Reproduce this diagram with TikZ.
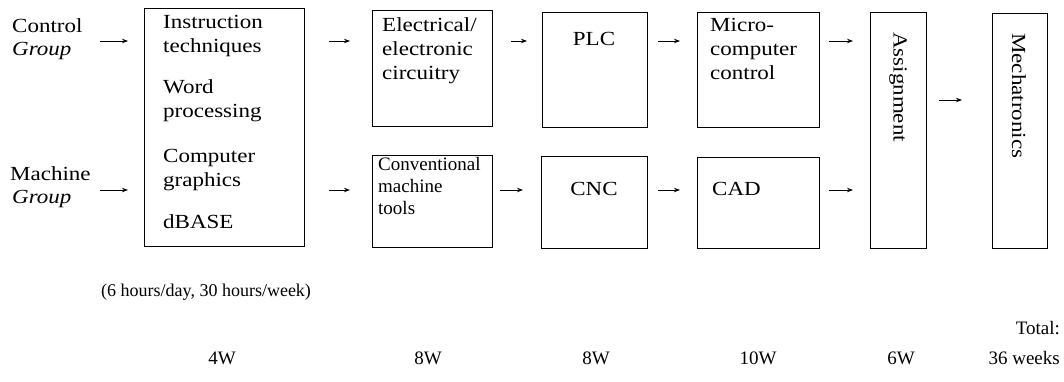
\documentclass[tikz,border=0pt]{standalone}
\usepackage{fontspec}
\setmainfont{Liberation Serif}[FakeStretch=1.15]
\newfontfamily\plainserif{Liberation Serif}
\usetikzlibrary{arrows.meta}
\begin{document}
\begin{tikzpicture}[x=1pt,y=-1pt,
  box/.style={draw, line width=1.1pt, inner sep=0pt, anchor=north west},
  txt/.style={font=\fontsize{20}{24}\selectfont, inner sep=0pt, align=left, anchor=base west},
  ctxt/.style={font=\fontsize{20}{24}\selectfont, inner sep=0pt, anchor=base},
  small/.style={font=\plainserif\fontsize{19}{22}\selectfont, inner sep=0pt, align=left, anchor=base west},
  grp/.style={font=\itshape\fontsize{20}{22}\selectfont, inner sep=0pt, anchor=base west},
  vtxt/.style={font=\fontsize{20}{22}\selectfont, inner sep=0pt, rotate=-90, anchor=west},
  note/.style={font=\plainserif\fontsize{19}{22}\selectfont, inner sep=0pt},
  arr/.style={-{Stealth[length=6pt,width=4.5pt]}, line width=0.9pt}]
\useasboundingbox (0,0) rectangle (1064,381);

% boxes
\node[box, minimum width=160pt, minimum height=238pt] (b1) at (144,8) {};
\node[box, minimum width=120pt, minimum height=116pt] (elec) at (372,10) {};
\node[box, minimum width=120pt, minimum height=92pt] (conv) at (372,155) {};
\node[box, minimum width=105pt, minimum height=115pt] (plc) at (542,12) {};
\node[box, minimum width=106pt, minimum height=92pt] (cnc) at (541,156) {};
\node[box, minimum width=122pt, minimum height=115pt] (micro) at (697,12) {};
\node[box, minimum width=122pt, minimum height=91pt] (cad) at (697,157) {};
\node[box, minimum width=56pt, minimum height=236pt] (assign) at (870,12) {};
\node[box, minimum width=55pt, minimum height=235pt] (mech) at (992,13) {};

% group labels
\node[txt] (ctl) at (12,32) {Control};
\node[grp] (ctlg) at (12,55) {Group};
\node[txt] (mach) at (10,180) {Machine};
\node[grp] (machg) at (12,203) {Group};

% box texts (base anchor = baseline of the last line)
\node[txt] (t1a) at (163,52) {Instruction\\techniques};
\node[txt] (t1b) at (163,117) {Word\\processing};
\node[txt] (t1c) at (163,186) {Computer\\graphics};
\node[txt] (t1d) at (163,228) {dBASE};
\node[txt] (telec) at (382,79) {Electrical/\\electronic\\circuitry};
\node[small] (tconv) at (378,214) {Conventional\\machine\\tools};
\node[ctxt] (tplc) at (594,45) {PLC};
\node[ctxt] (tcnc) at (594,195) {CNC};
\node[txt] (tmicro) at (710,79) {Micro-\\computer\\control};
\node[txt] (tcad) at (712,195) {CAD};
\node[vtxt] (tassign) at (898,32) {Assignment};
\node[vtxt] (tmech) at (1019,33) {Mechatronics};

% footer
\node[note, font=\plainserif\fontsize{18}{22}\selectfont, anchor=base west] (hours) at (101,296) {(6 hours/day, 30 hours/week)};
\node[note, anchor=base east] (total) at (1060,334) {Total:};
\node[note, anchor=base] (w1) at (222,364) {4W};
\node[note, anchor=base] (w2) at (428,364) {8W};
\node[note, anchor=base] (w3) at (596,364) {8W};
\node[note, anchor=base] (w4) at (758,364) {10W};
\node[note, anchor=base] (w5) at (901,364) {6W};
\node[note, anchor=base east] (w6) at (1060,364) {36 weeks};

% arrows
\coordinate (rowA) at (0,41);
\coordinate (rowB) at (0,190);
\coordinate (rowC) at (0,100);
\coordinate (sA) at (100,41);
\coordinate (sB) at (100,190);
\draw[arr, shorten >=16pt] (sA) -- (b1.west |- rowA);
\draw[arr, shorten >=16pt] (sB) -- (b1.west |- rowB);
\draw[arr, shorten <=24pt, shorten >=22pt] (b1.east |- rowA) -- (elec.west |- rowA);
\draw[arr, shorten <=24pt, shorten >=22pt] (b1.east |- rowB) -- (conv.west |- rowB);
\draw[arr, shorten <=18pt, shorten >=15pt] (elec.east |- rowA) -- (plc.west |- rowA);
\draw[arr, shorten <=7pt, shorten >=18pt] (conv.east |- rowB) -- (cnc.west |- rowB);
\draw[arr, shorten <=10pt, shorten >=17pt] (plc.east |- rowA) -- (micro.west |- rowA);
\draw[arr, shorten <=10pt, shorten >=17pt] (cnc.east |- rowB) -- (cad.west |- rowB);
\draw[arr, shorten <=9pt, shorten >=17pt] (micro.east |- rowA) -- (assign.west |- rowA);
\draw[arr, shorten <=9pt, shorten >=17pt] (cad.east |- rowB) -- (assign.west |- rowB);
\draw[arr, shorten <=12pt, shorten >=30pt] (assign.east |- rowC) -- (mech.west |- rowC);
\end{tikzpicture}
\end{document}
